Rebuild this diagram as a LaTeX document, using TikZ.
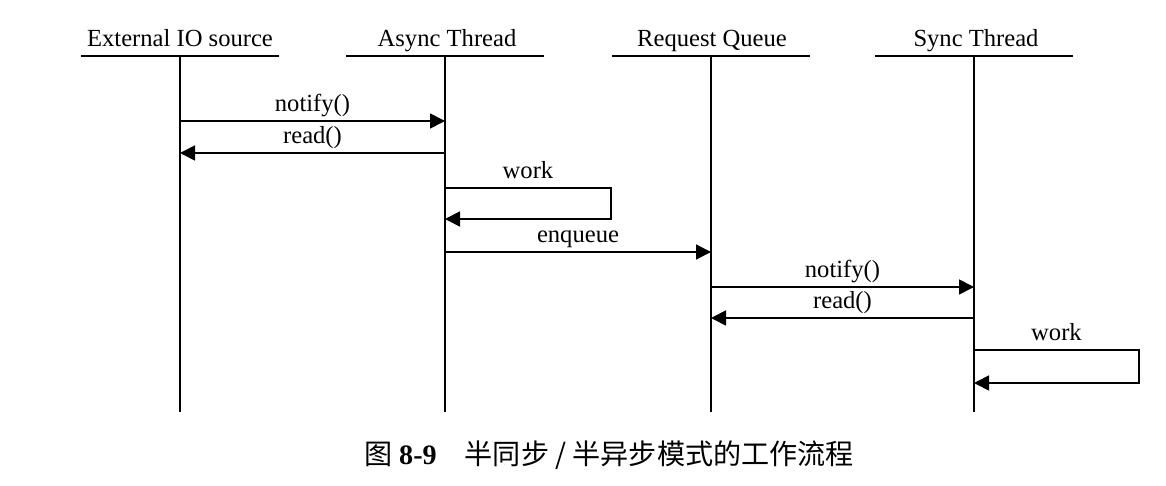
\documentclass[tikz,border=0pt]{standalone}
\usepackage{fontspec}
\setmainfont{Liberation Serif}
\newfontfamily\cjk{Noto Sans CJK SC}
\usetikzlibrary{arrows.meta}

\begin{document}
\begin{tikzpicture}[x=0.2mm,y=-0.2mm,line width=1pt,
    font=\fontsize{14}{16}\selectfont,
    msg/.style={-{Triangle[length=3mm,width=3mm]}},
    head/.style={anchor=base},
    lbl/.style={anchor=base,yshift=5.5pt,inner sep=0pt}]
  \useasboundingbox (0,0) rectangle (1166,486);
  % heads and lifelines
  \node[head] (ext) at (180,47) {External IO source};
  \node[head] (asy) at (447,47) {Async Thread};
  \node[head] (req) at (712,47) {Request Queue};
  \node[head] (syn) at (976,47) {Sync Thread};
  \foreach \n/\x in {ext/180,asy/445,req/711,syn/974} {
    \draw (\x-99,56) -- (\x+99,56);
    \coordinate (\n top) at (\x,56);
    \coordinate (\n bot) at (\x,412);
    \draw (\n top) -- (\n bot);
  }
  % messages
  \coordinate (n1a) at (180,121); \coordinate (n1b) at (445,121);
  \coordinate (r1a) at (445,153); \coordinate (r1b) at (180,153);
  \coordinate (w1a) at (445,188); \coordinate (w1b) at (611,188);
  \coordinate (w1c) at (611,219); \coordinate (w1d) at (445,219);
  \coordinate (eqa) at (445,252); \coordinate (eqb) at (711,252);
  \coordinate (n2a) at (711,287); \coordinate (n2b) at (974,287);
  \coordinate (r2a) at (974,318); \coordinate (r2b) at (711,318);
  \coordinate (w2a) at (974,350); \coordinate (w2b) at (1139,350);
  \coordinate (w2c) at (1139,383); \coordinate (w2d) at (974,383);
  \draw[msg] (n1a) -- node[lbl] {notify()} (n1b);
  \draw[msg] (r1a) -- node[lbl] {read()} (r1b);
  \draw[msg] (w1a) -- node[lbl] {work} (w1b) -- (w1c) -- (w1d);
  \draw[msg] (eqa) -- node[lbl] {enqueue} (eqb);
  \draw[msg] (n2a) -- node[lbl] {notify()} (n2b);
  \draw[msg] (r2a) -- node[lbl] {read()} (r2b);
  \draw[msg] (w2a) -- node[lbl] {work} (w2b) -- (w2c) -- (w2d);
  % caption
  \node[font=\fontsize{16}{18}\selectfont] (cap) at (609,455)
    {{\cjk 图} \textbf{8-9}\quad{\cjk 半同步 / 半异步模式的工作流程}};
\end{tikzpicture}
\end{document}
